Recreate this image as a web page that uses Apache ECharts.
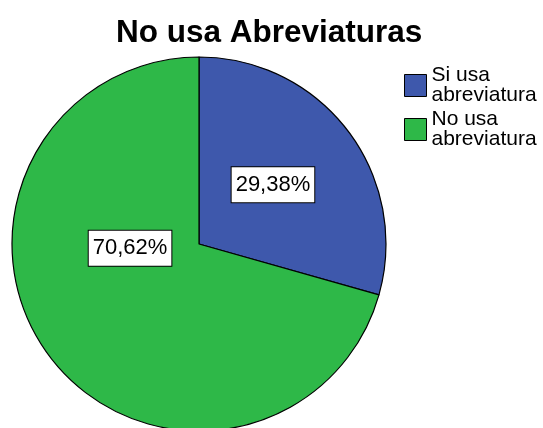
<!DOCTYPE html>
<html>
<head>
<meta charset="utf-8">
<script src="https://cdn.jsdelivr.net/npm/echarts@6/dist/echarts.min.js"></script>
<style>html,body{margin:0;padding:0;background:#fff;}#c{width:543px;height:428px;}</style>
</head>
<body>
<div id="c"></div>
<script>
const titleText = 'No usa Abreviaturas';
const categories = ['Si usa\nabreviatura', 'No usa\nabreviatura'];
const values = [29.38, 70.62];
const colors = ['#3E58AC', '#2EB848'];
const labelShift = [[-3, -1], [8, -54]];

const chart = echarts.init(document.getElementById('c'), null, {renderer: 'canvas'});
chart.setOption({
  animation: false,
  backgroundColor: '#fff',
  title: {
    text: titleText,
    left: 111,
    top: 12,
    textStyle: {fontFamily: 'Liberation Sans, Arial, sans-serif', fontSize: 31.5, fontWeight: 'bold', color: '#000'}
  },
  legend: {
    orient: 'vertical',
    left: 399,
    top: 60,
    itemWidth: 22,
    itemHeight: 22,
    itemGap: 3,
    icon: 'rect',
    itemStyle: {borderColor: '#000', borderWidth: 1},
    textStyle: {fontFamily: 'Liberation Sans, Arial, sans-serif', fontSize: 21, lineHeight: 20, color: '#000'},
    data: categories
  },
  series: [{
    type: 'pie',
    center: [199, 244],
    radius: 187,
    startAngle: 90,
    clockwise: true,
    avoidLabelOverlap: false,
    data: categories.map((c, i) => ({name: c, value: values[i], itemStyle: {color: colors[i]}})),
    itemStyle: {borderColor: '#000', borderWidth: 1.2},
    label: {
      show: true,
      position: 'inside',
      formatter: p => p.value.toFixed(2).replace('.', ',') + '%',
      fontFamily: 'Liberation Sans, Arial, sans-serif',
      fontSize: 22,
      color: '#000',
      backgroundColor: '#fff',
      borderColor: '#000',
      borderWidth: 1,
      padding: [7, 4, 6, 4]
    },
    labelLine: {show: false},
    labelLayout: p => ({dx: labelShift[p.dataIndex][0], dy: labelShift[p.dataIndex][1]}),
    emphasis: {disabled: true}
  }]
});
</script>
</body>
</html>
